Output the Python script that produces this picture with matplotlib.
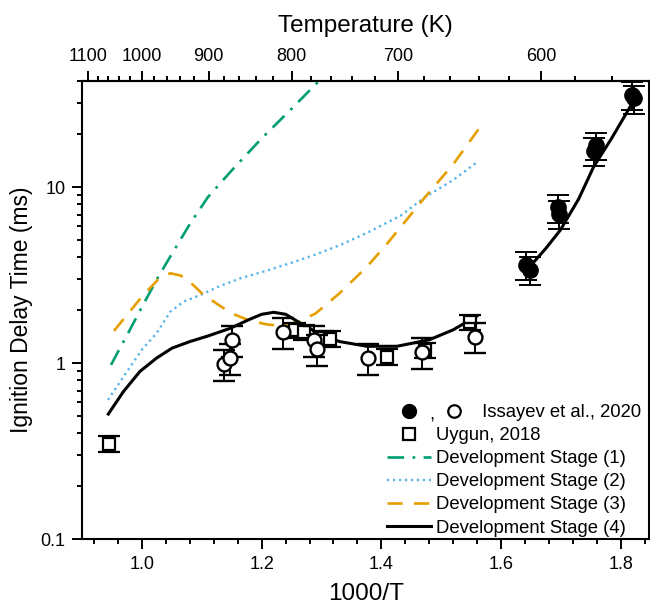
import numpy as np
import matplotlib
matplotlib.use("Agg")
import matplotlib.pyplot as plt
from matplotlib.lines import Line2D
from matplotlib.text import Text
from matplotlib.legend_handler import HandlerBase
from matplotlib.ticker import FixedLocator, MultipleLocator, FuncFormatter, NullFormatter

plt.rcParams['font.family'] = ['Liberation Sans', 'DejaVu Sans']
plt.rcParams['lines.scale_dashes'] = False

# ---------------- data ----------------
# Issayev et al., 2020 - open symbols (high temperature)
iss_open_x = [1.137, 1.147, 1.150, 1.236, 1.288, 1.292, 1.378, 1.468, 1.557]
iss_open_y = [0.99, 1.07, 1.36, 1.51, 1.36, 1.20, 1.07, 1.16, 1.42]
iss_open_err = [0.20, 0.21, 0.27, 0.30, 0.27, 0.24, 0.21, 0.23, 0.28]

# Issayev et al., 2020 - filled symbols (low temperature)
iss_fill_x = [1.642, 1.648, 1.695, 1.697, 1.756, 1.759, 1.819, 1.822]
iss_fill_y = [3.62, 3.40, 7.7, 7.1, 16.2, 17.4, 33.5, 32.0]
iss_fill_err = [0.65, 0.60, 1.4, 1.3, 3.0, 3.1, 6.0, 5.8]

# Uygun, 2018 - squares
uyg_x = [0.944, 1.255, 1.270, 1.303, 1.314, 1.409, 1.473, 1.548]
uyg_y = [0.35, 1.55, 1.51, 1.39, 1.38, 1.09, 1.19, 1.72]
uyg_err = [0.035, 0.15, 0.15, 0.14, 0.14, 0.11, 0.12, 0.17]

# Development stage (1)
s1_x = [0.948, 0.975, 1.0, 1.027, 1.05, 1.08, 1.11, 1.15, 1.2, 1.25, 1.295]
s1_y = [0.98, 1.45, 2.1, 3.1, 4.2, 6.2, 8.8, 12.5, 19, 28, 40]

# Development stage (2)
s2_x = [0.943, 0.97, 1.0, 1.024, 1.047, 1.07, 1.097, 1.13, 1.164, 1.2, 1.247,
        1.29, 1.331, 1.38, 1.432, 1.473, 1.52, 1.56]
s2_y = [0.62, 0.85, 1.2, 1.48, 1.96, 2.25, 2.44, 2.75, 3.04, 3.3, 3.7,
        4.15, 4.7, 5.6, 6.9, 8.8, 11.0, 13.9]

# Development stage (3)
s3_x = [0.953, 0.97, 1.0, 1.027, 1.047, 1.065, 1.08, 1.10, 1.125, 1.15, 1.18,
        1.21, 1.235, 1.26, 1.29, 1.33, 1.376, 1.41, 1.473, 1.52, 1.565]
s3_y = [1.53, 1.8, 2.4, 3.0, 3.25, 3.15, 2.9, 2.5, 2.18, 1.92, 1.75,
        1.66, 1.64, 1.72, 1.92, 2.5, 3.54, 4.8, 8.8, 13.5, 22]

# Development stage (4) - high temperature branch
s4a_x = [0.9435, 0.9686, 0.9965, 1.024, 1.05, 1.08, 1.11, 1.147, 1.18, 1.20,
         1.22, 1.24, 1.27, 1.30, 1.33, 1.376, 1.426, 1.48, 1.52, 1.56]
s4a_y = [0.515, 0.69, 0.90, 1.07, 1.22, 1.33, 1.43, 1.58, 1.78, 1.9,
         1.95, 1.9, 1.65, 1.45, 1.33, 1.25, 1.25, 1.36, 1.55, 1.86]
# Development stage (4) - low temperature branch
s4b_x = [1.65, 1.675, 1.699, 1.73, 1.755, 1.785, 1.816]
s4b_y = [3.6, 4.5, 5.7, 8.6, 13.1, 19.0, 28.7]

x_ticks = [1.0, 1.2, 1.4, 1.6, 1.8]
y_ticks = [0.1, 1, 10]
T_ticks = [1100, 1000, 900, 800, 700, 600]

c_green = '#009E73'
c_blue = '#56B4E9'
c_orange = '#E69F00'

# ---------------- figure ----------------
fig = plt.figure(figsize=(6.5, 6.08), dpi=100)
ax = fig.add_axes([0.1266, 0.1130, 0.8723, 0.7543])
ax.set_yscale('log')
ax.set_xlim(0.9, 1.848)
ax.set_ylim(0.1, 40.4)

l1, = ax.plot(s1_x, s1_y, color=c_green, lw=1.9, ls=(0, (12, 6, 2, 6)))
l2, = ax.plot(s2_x, s2_y, color=c_blue, lw=1.7, ls=(0, (1.6, 2.7)))
l3, = ax.plot(s3_x, s3_y, color=c_orange, lw=1.9, ls=(0, (11, 8)))
l4, = ax.plot(s4a_x, s4a_y, color='black', lw=2.2)
ax.plot(s4b_x, s4b_y, color='black', lw=2.2)

eb_kw = dict(ls='none', ecolor='black', elinewidth=1.4, capsize=8, capthick=1.4)
ax.errorbar(uyg_x, uyg_y, yerr=uyg_err, marker='s', ms=8, mfc='white', mec='black',
            mew=1.6, zorder=4, **eb_kw)
ax.errorbar(iss_open_x, iss_open_y, yerr=iss_open_err, marker='o', ms=10,
            mfc='white', mec='black', mew=1.7, zorder=5, **eb_kw)
ax.errorbar(iss_fill_x, iss_fill_y, yerr=iss_fill_err, marker='o', ms=11,
            mfc='black', mec='black', zorder=5, **eb_kw)

# axes styling
for s in ax.spines.values():
    s.set_linewidth(1.5)
ax.xaxis.set_major_locator(FixedLocator(x_ticks))
ax.xaxis.set_major_formatter(FuncFormatter(lambda v, p: f"{v:.1f}"))
ax.xaxis.set_minor_locator(MultipleLocator(0.04))
ax.yaxis.set_major_locator(FixedLocator(y_ticks))
ax.yaxis.set_major_formatter(FuncFormatter(lambda v, p: f"{v:g}"))
ax.yaxis.set_minor_formatter(NullFormatter())
ax.tick_params(which='both', direction='out', width=1.4, labelsize=13,
               top=False, right=False)
ax.tick_params(which='major', length=7, pad=5)
ax.tick_params(which='minor', length=3.5)
ax.set_xlabel('1000/T', fontsize=17.5, labelpad=7)
ax.set_ylabel('Ignition Delay Time (ms)', fontsize=16.5)
ax.yaxis.set_label_coords(-0.087, 0.5)


def inv(x):
    x = np.asarray(x, dtype=float)
    with np.errstate(divide='ignore'):
        return np.where(x == 0, np.inf, 1000.0 / np.where(x == 0, 1, x))


sec = ax.secondary_xaxis('top', functions=(inv, inv))
sec.set_xticks(T_ticks)
sec.xaxis.set_major_formatter(FuncFormatter(lambda v, p: f"{v:.0f}"))
sec.xaxis.set_minor_locator(FixedLocator(list(range(560, 1101, 20))))
sec.xaxis.set_minor_formatter(NullFormatter())
sec.tick_params(which='both', direction='out', width=1.4, labelsize=13)
sec.tick_params(which='major', length=7, pad=4)
sec.tick_params(which='minor', length=3.5)
sec.spines['top'].set_linewidth(1.5)
sec.set_xlabel('Temperature (K)', fontsize=17.5, labelpad=12)


# legend
class IssayevHandler(HandlerBase):
    def create_artists(self, legend, orig_handle, xdescent, ydescent,
                       width, height, fontsize, trans):
        y = height / 2.0 - ydescent
        a = Line2D([0.5 * width - xdescent], [y], marker='o', ms=10, color='black',
                   ls='none', transform=trans)
        b = Text(1.03 * width - xdescent, y - 0.35 * height, ',', fontsize=fontsize,
                 ha='center', va='center', transform=trans)
        c = Line2D([1.54 * width - xdescent], [y], marker='o', ms=9, mfc='white',
                   mec='black', mew=1.6, ls='none', transform=trans)
        return [a, b, c]


class IssayevKey:
    pass


sq = Line2D([], [], marker='s', ms=8, mfc='white', mec='black', mew=1.6, ls='none')
handles = [IssayevKey(), sq, l1, l2, l3, l4]
labels = ['         Issayev et al., 2020', 'Uygun, 2018', 'Development Stage (1)',
          'Development Stage (2)', 'Development Stage (3)', 'Development Stage (4)']
ax.legend(handles, labels, handler_map={IssayevKey: IssayevHandler()},
          loc='lower left', bbox_to_anchor=(0.537, 0.006), frameon=False,
          fontsize=13.3, handlelength=2.38, handletextpad=0.27, labelspacing=0.33,
          borderpad=0, borderaxespad=0)

fig.savefig('out.png', dpi=100)
